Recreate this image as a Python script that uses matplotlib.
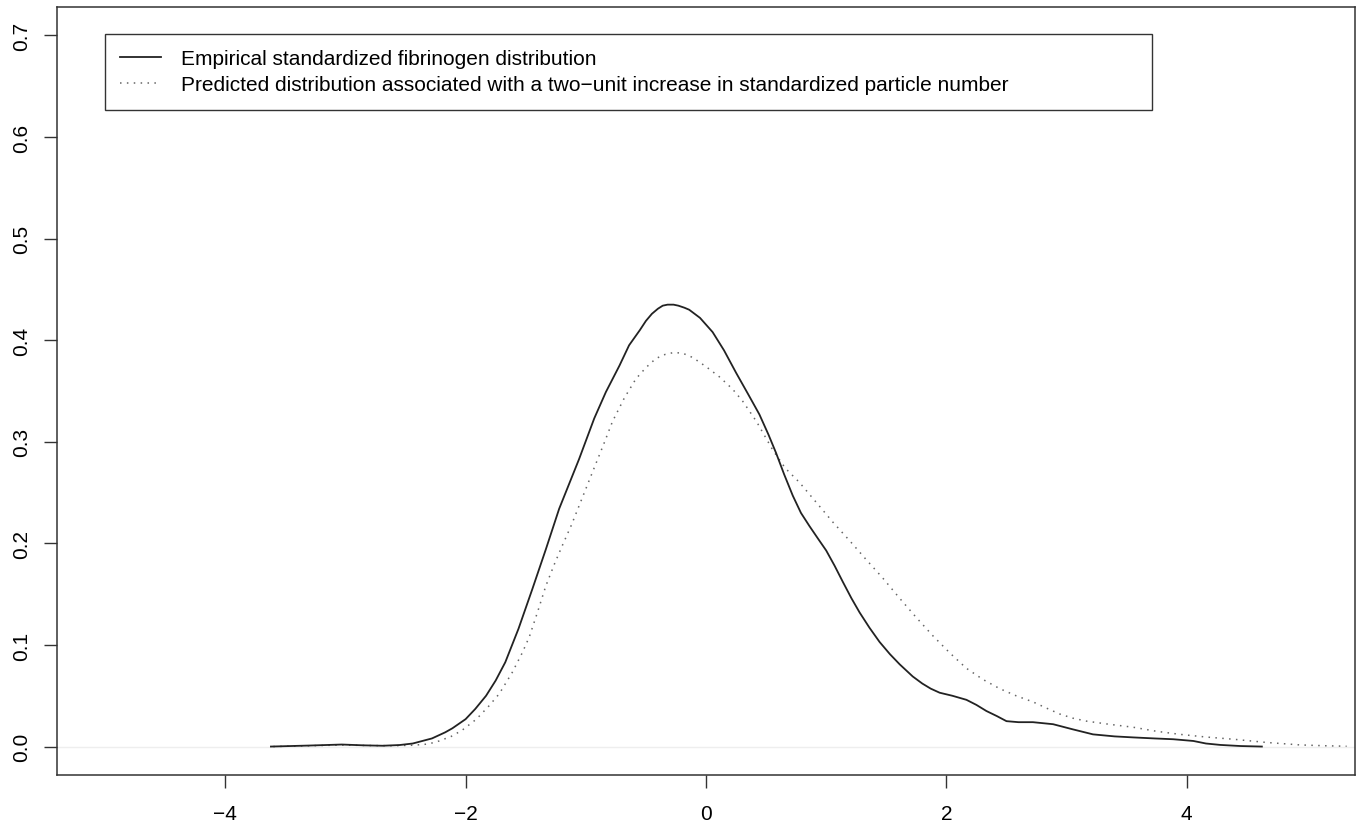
import matplotlib
matplotlib.use("Agg")
import matplotlib.pyplot as plt
import numpy as np

plt.rcParams['font.family'] = ['Liberation Sans', 'DejaVu Sans']

# empirical standardized fibrinogen density
emp_x = [-3.62, -3.3, -3.03, -2.85, -2.69, -2.55, -2.44, -2.36, -2.28, -2.17,
         -2.11, -2.0, -1.92, -1.83, -1.75, -1.67, -1.56, -1.445, -1.333, -1.222,
         -1.056, -0.93, -0.833, -0.72, -0.64, -0.55, -0.50, -0.45, -0.40, -0.36,
         -0.32, -0.27, -0.23, -0.18, -0.14, -0.05, 0.055, 0.15, 0.25, 0.35,
         0.444, 0.52, 0.583, 0.65, 0.722, 0.79, 0.861, 0.93, 1.0, 1.07,
         1.139, 1.21, 1.278, 1.36, 1.444, 1.53, 1.611, 1.72, 1.80, 1.87,
         1.944, 2.05, 2.167, 2.25, 2.333, 2.42, 2.5, 2.6, 2.72, 2.888,
         3.05, 3.22, 3.4, 3.555, 3.73, 3.888, 4.055, 4.16, 4.28, 4.45,
         4.625]
emp_y = [0.0, 0.001, 0.002, 0.0012, 0.0008, 0.0015, 0.003, 0.0055, 0.008, 0.014,
         0.018, 0.027, 0.037, 0.050, 0.065, 0.083, 0.116, 0.155, 0.194, 0.234,
         0.283, 0.323, 0.349, 0.375, 0.395, 0.410, 0.419, 0.426, 0.431, 0.434,
         0.435, 0.435, 0.434, 0.432, 0.430, 0.422, 0.408, 0.390, 0.368, 0.347,
         0.327, 0.307, 0.289, 0.268, 0.247, 0.230, 0.217, 0.205, 0.193, 0.178,
         0.162, 0.146, 0.132, 0.117, 0.103, 0.091, 0.081, 0.069, 0.062, 0.057,
         0.053, 0.050, 0.046, 0.041, 0.035, 0.030, 0.025, 0.024, 0.024, 0.022,
         0.017, 0.012, 0.010, 0.009, 0.008, 0.0072, 0.0055, 0.003, 0.0016, 0.0005,
         0.0]

# predicted distribution, two-unit increase in particle number
pred_x = [-3.6, -3.3, -3.03, -2.8, -2.6, -2.44, -2.31, -2.22, -2.12, -2.03,
          -1.91, -1.806, -1.72, -1.612, -1.53, -1.47, -1.40, -1.333, -1.26, -1.195,
          -1.12, -1.056, -0.945, -0.85, -0.778, -0.68, -0.583, -0.50, -0.417, -0.34,
          -0.264, -0.19, -0.111, 0.0, 0.111, 0.22, 0.305, 0.42, 0.555, 0.66,
          0.7775, 0.92, 1.055, 1.20, 1.333, 1.47, 1.611, 1.75, 1.888, 2.03,
          2.167, 2.305, 2.444, 2.58, 2.72, 2.83, 2.944, 3.05, 3.167, 3.35,
          3.555, 3.75, 3.944, 4.15, 4.388, 4.667, 4.944, 5.15, 5.33]
pred_y = [0.0, 0.0008, 0.0015, 0.001, 0.0008, 0.0013, 0.0025, 0.0055, 0.010, 0.016,
          0.027, 0.040, 0.052, 0.073, 0.092, 0.108, 0.133, 0.158, 0.180, 0.198,
          0.218, 0.237, 0.270, 0.298, 0.320, 0.343, 0.362, 0.373, 0.382, 0.386,
          0.388, 0.387, 0.383, 0.374, 0.364, 0.352, 0.340, 0.320, 0.292, 0.274,
          0.260, 0.240, 0.221, 0.202, 0.184, 0.166, 0.146, 0.127, 0.109, 0.092,
          0.077, 0.066, 0.057, 0.050, 0.044, 0.038, 0.032, 0.028, 0.025, 0.022,
          0.019, 0.015, 0.012, 0.0095, 0.0072, 0.0040, 0.0016, 0.0008, 0.0003]

x_ticks = [-4, -2, 0, 2, 4]
y_ticks = [0.0, 0.1, 0.2, 0.3, 0.4, 0.5, 0.6, 0.7]
labels = ["Empirical standardized fibrinogen distribution",
          "Predicted distribution associated with a two\u2212unit increase in standardized particle number"]

fig = plt.figure(figsize=(13.61, 8.29), dpi=100)
ax = fig.add_axes([57 / 1361, 53 / 829, 1298 / 1361, 768 / 829])

ax.axhline(0, color='#eeeeee', lw=1, zorder=1)
ax.plot(emp_x, emp_y, color='#222222', lw=1.3, label=labels[0], zorder=3)
ax.plot(pred_x, pred_y, color='#666666', lw=1.1, dashes=(1, 3.5), label=labels[1], zorder=2)

ax.set_xlim(-5.4, 5.4)
ax.set_ylim(-0.028, 0.728)
ax.set_xticks(x_ticks)
ax.set_xticklabels([str(v).replace('-', '\u2212') for v in x_ticks])
ax.set_yticks(y_ticks)
ax.set_yticklabels(["%.1f" % v for v in y_ticks], rotation=90, va='center')

ax.tick_params(axis='both', direction='out', length=9.4, width=1, color='#333333',
               labelsize=15)
ax.tick_params(axis='x', pad=11.5)
ax.tick_params(axis='y', pad=9.5)
for s in ax.spines.values():
    s.set_color('#333333')
    s.set_linewidth(1.1)

leg = ax.legend(loc='upper left', bbox_to_anchor=(0.037, 0.8659, 0.8066, 0.0989),
                mode='expand', fontsize=15, frameon=True, fancybox=False,
                edgecolor='#333333', framealpha=1, handlelength=1.95,
                handletextpad=0.95, labelspacing=0.32, borderpad=0.74, borderaxespad=0)
leg.get_frame().set_linewidth(1.0)

fig.savefig("out.png", dpi=100)
